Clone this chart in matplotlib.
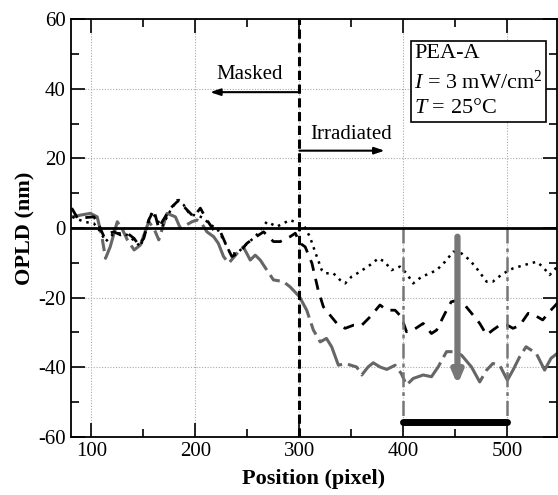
import numpy as np
import matplotlib.pyplot as plt

plt.rcParams.update({
    "font.family": "Liberation Serif",
    "mathtext.fontset": "custom",
    "mathtext.rm": "Liberation Serif",
    "mathtext.it": "Liberation Serif:italic",
    "axes.unicode_minus": False,
})

# dotted black curve
x_dot = [81.5, 92.7, 102.3, 108.7, 113.5, 120, 126.3, 134.4, 142.3, 147, 153.6, 158.3, 163, 168,
         174.3, 182.3, 188.7, 195, 201.5, 207.9, 214.3, 220.7, 227, 233.5, 240, 248, 257.5, 268.7,
         278.3, 291, 299, 304, 310, 316.7, 321.5, 324.7, 332.6, 339, 344, 350, 358, 368, 376, 382,
         388.6, 396.6, 403, 409.4, 417.5, 425.5, 432, 440, 448, 455.9, 463.8, 471.8, 480, 486, 494,
         500, 505.4, 516.6, 528, 534, 540.6, 548]
y_dot = [3.2, 1.8, 1.3, -1.1, -3.9, -2, -1.5, -2, -3.9, -5.4, 0.4, 4.7, 2.3, 0.4,
         4.2, 8, 6.6, 3.7, 3.7, 2.8, 0.9, -0.1, -3.4, -7.3, -7.3, -4.9, -2.5, 1.8,
         0.4, 2.3, 1.3, 0.9, -2.5, -8.2, -12.1, -13, -13, -14.9, -15.9, -14, -12.6, -10.6, -8.7, -9.7,
         -12.1, -11.1, -13, -15.9, -14, -13, -12.1, -9.7, -6.8, -7.3, -9.2, -12.1, -15.4, -15.4, -13.5,
         -12.4, -11.6, -10.6, -9.7, -11.1, -13.5, -11.1]

# dashed black curve
x_dash = [81, 86.6, 102.3, 107, 112, 116.7, 121.6, 128, 134.6, 141, 145.5, 150.3, 155, 160, 164.7,
          168, 176, 184, 190.3, 198.3, 204.7, 211, 217.5, 224, 230.3, 235, 243, 249.5, 255.9, 265.5,
          275, 281.5, 291, 296, 300.7, 305.5, 312, 318, 323, 328, 336, 344, 352, 360, 368, 377.5,
          384, 392, 398, 403, 409.4, 419, 427, 432, 440, 446, 452.6, 459, 467, 473.4, 480, 486,
          492.6, 500, 505.4, 511.8, 520, 526, 534, 540.6, 548]
y_dash = [5.7, 2.8, 3.2, 0.9, -2.5, -1.5, -1.1, -2, -1.5, -3, -4.9, -3, 2.3, 5.2, -0.1,
          1.8, 5.7, 8, 5.7, 3.2, 5.7, 2.3, -0.6, -1.1, -5.4, -8.2, -6.8, -4.4, -3, -1.1,
          -3.9, -3.9, -2.5, -1.5, -4.4, -5.4, -10.1, -17.8, -22.6, -24.5, -27.4, -28.8, -27.9, -27.9, -25.5, -22.1,
          -23.6, -23.6, -25.5, -29.8, -29.3, -27.4, -30.3, -29.3, -24.5, -21.2, -20.7, -22.1, -25, -27.4, -30.7, -29.3,
          -27.9, -27.9, -28.8, -28, -24.5, -25, -26.4, -24, -21.6]

# gray curve
x_gray = [81.5, 89.5, 99, 105.5, 110, 113.5, 118, 124.8, 130, 134.5, 141, 147, 155, 160, 164.7,
          172.7, 180.7, 185.5, 196.7, 201.5, 206, 211, 217.5, 222, 227, 232, 240, 246, 252.7, 257.5,
          262.3, 268.7, 275, 284.6, 291, 300, 307, 313.4, 320, 326, 331, 337.5, 344, 355, 360, 366,
          371, 377.5, 384, 392, 398, 403, 409.4, 419, 427, 433.4, 441.5, 447.8, 455.9, 465.5, 473.4,
          480, 486, 492.6, 500, 505.4, 511.8, 518, 527.8, 535.8, 542, 548]
y_gray = [3.2, 3.7, 4.2, 3.2, -2.5, -8.7, -5.4, 1.8, -0.6, -3.4, -6.3, -4.9, 1.8, -0.1, -3.4,
          4.2, 3.2, -0.1, 1.8, 2.3, 1.3, -1.1, -2.5, -4.4, -8.2, -10.1, -7.3, -5.4, -9.2, -7.8,
          -9.2, -12.1, -14.9, -15.4, -16.9, -19.7, -23.6, -29.3, -32.7, -31.7, -34.1, -39.4, -38.9, -39.9, -42.2, -39.9,
          -38.7, -39.9, -40.6, -39.4, -41.8, -45.1, -43.2, -42.2, -42.7, -39.9, -35.5, -35.5, -36.5, -39.9, -44.2,
          -40.8, -38.9, -39.4, -43.7, -40.8, -37, -34.1, -36, -40.8, -37.4, -36]

fig = plt.figure(figsize=(5.58, 4.95), dpi=100)
ax = fig.add_axes([0.1267, 0.1172, 0.872, 0.8444])

ax.plot(x_gray, y_gray, color='#666666', lw=2.2, dashes=(14, 2, 4, 2))
ax.plot(x_dash, y_dash, color='k', lw=2.0, dashes=(4, 3))
ax.plot(x_dot, y_dot, color='k', lw=1.8, dashes=(1, 2))

ax.axhline(0, color='k', lw=2.0, zorder=3)
ax.axvline(300, color='k', lw=2.2, dashes=(3, 1.5))
for xv in [400, 500]:
    ax.plot([xv, xv], [0, -55.8], color='#777777', lw=1.8, dashes=(6, 2, 1.5, 2))
ax.plot([400, 500], [-55.8, -55.8], color='k', lw=5, solid_capstyle='round', zorder=4)

ax.annotate('', xy=(452, -45), xytext=(452, -2.5),
            arrowprops=dict(arrowstyle='-|>,head_width=0.3,head_length=0.7', color='#777777',
                            lw=4.5, shrinkA=0, shrinkB=0))
ax.annotate('', xy=(214, 39), xytext=(300, 39),
            arrowprops=dict(arrowstyle='-|>,head_width=0.2,head_length=0.6', color='k',
                            lw=1.5, shrinkA=0, shrinkB=0))
ax.annotate('', xy=(382, 22.2), xytext=(300, 22.2),
            arrowprops=dict(arrowstyle='-|>,head_width=0.2,head_length=0.6', color='k',
                            lw=1.5, shrinkA=0, shrinkB=0))
ax.text(252, 41.2, 'Masked', fontsize=15, ha='center', va='bottom')
ax.text(350, 24.2, 'Irradiated', fontsize=15, ha='center', va='bottom')

ax.text(410.5, 52.8, 'PEA-A\n$I$ = 3 mW/cm$^2$\n$T$ = 25°C', fontsize=16, ha='left', va='top',
        linespacing=1.4,
        bbox=dict(boxstyle='square,pad=0.15', fc='white', ec='k', lw=1.2))

ax.set_xlim(80, 548)
ax.set_ylim(-60, 60)
ax.set_xticks([100, 200, 300, 400, 500])
ax.set_xticks([150, 250, 350, 450], minor=True)
ax.set_yticks([-60, -40, -20, 0, 20, 40, 60])
ax.set_yticks([-50, -30, -10, 10, 30, 50], minor=True)
ax.tick_params(which='both', direction='in', top=True, right=True, labelsize=15, width=1.2)
ax.tick_params(which='major', length=10)
ax.tick_params(which='minor', length=6)
ax.grid(True, which='major', color='#aaaaaa', lw=0.8, ls=(0, (1, 1.5)))
for s in ax.spines.values():
    s.set_linewidth(1.3)

ax.set_xlabel('Position (pixel)', fontsize=16, fontweight='bold', labelpad=6)
ax.set_ylabel('OPLD (nm)', fontsize=16, fontweight='bold', labelpad=2)

plt.savefig('out.png', dpi=100)
